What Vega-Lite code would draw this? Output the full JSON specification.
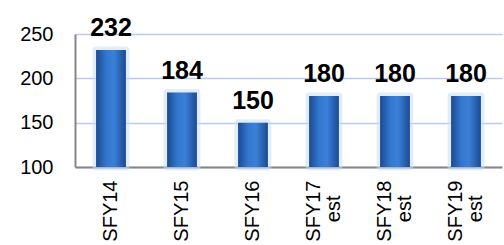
{
  "$schema": "https://vega.github.io/schema/vega-lite/v6.json",
  "width": 427,
  "height": 133,
  "autosize": {"type": "none"},
  "padding": {"left": 75, "top": 34, "right": 2, "bottom": 78},
  "background": "white",
  "config": {"view": {"stroke": null}, "font": "Liberation Sans"},
  "data": {
    "values": [
      {"year": "SFY14", "value": 232},
      {"year": "SFY15", "value": 184},
      {"year": "SFY16", "value": 150},
      {"year": "SFY17 est", "value": 180},
      {"year": "SFY18 est", "value": 180},
      {"year": "SFY19 est", "value": 180}
    ]
  },
  "encoding": {
    "x": {
      "field": "year",
      "type": "nominal",
      "sort": null,
      "scale": {"paddingInner": 0.58, "paddingOuter": 0.297},
      "axis": {
        "title": null,
        "labelAngle": -90,
        "labelAlign": "right",
        "labelBaseline": "middle",
        "labelPadding": 13,
        "labelOffset": {"condition": {"test": "length(datum.label) > 6", "value": -10}, "value": 0},
        "ticks": false,
        "tickSize": 0,
        "labelFontSize": 20,
        "labelColor": "#000000",
        "domainColor": "#868686",
        "domainWidth": 2,
        "labelExpr": "length(datum.label) > 6 ? [slice(datum.label, 0, 5), slice(datum.label, 6) + '\u2800'] : datum.label",
        "labelLineHeight": 20,
        "grid": false
      }
    },
    "y": {
      "field": "value",
      "type": "quantitative",
      "scale": {"domain": [100, 250], "nice": false, "zero": false},
      "axis": {
        "title": null,
        "values": [100, 150, 200, 250],
        "labelFontSize": 20,
        "labelPadding": 22,
        "ticks": false,
        "tickSize": 0,
        "domainColor": "#868686",
        "domainWidth": 2,
        "gridColor": "#b9c9ef",
        "gridWidth": 1.5,
        "labelColor": "#000000"
      }
    }
  },
  "layer": [
    {
      "mark": {
        "type": "bar",
        "fill": "#c9def5",
        "fillOpacity": 0.55,
        "stroke": "#c9def5",
        "strokeWidth": 7,
        "strokeOpacity": 0.55,
        "strokeJoin": "round"
      },
      "encoding": {"y2": {"datum": 100}}
    },
    {
      "mark": {
        "type": "bar",
        "color": {
          "gradient": "linear",
          "x1": 0, "y1": 0, "x2": 1, "y2": 0,
          "stops": [
            {"offset": 0, "color": "#1c4a92"},
            {"offset": 0.35, "color": "#3378cf"},
            {"offset": 0.6, "color": "#3a80d8"},
            {"offset": 1, "color": "#1c4a92"}
          ]
        }
      },
      "encoding": {"y2": {"datum": 100}}
    },
    {
      "mark": {
        "type": "text",
        "fontSize": 25,
        "fontWeight": "bold",
        "baseline": "alphabetic",
        "dy": -14,
        "color": "#000000"
      },
      "encoding": {"text": {"field": "value", "type": "quantitative"}}
    }
  ]
}
